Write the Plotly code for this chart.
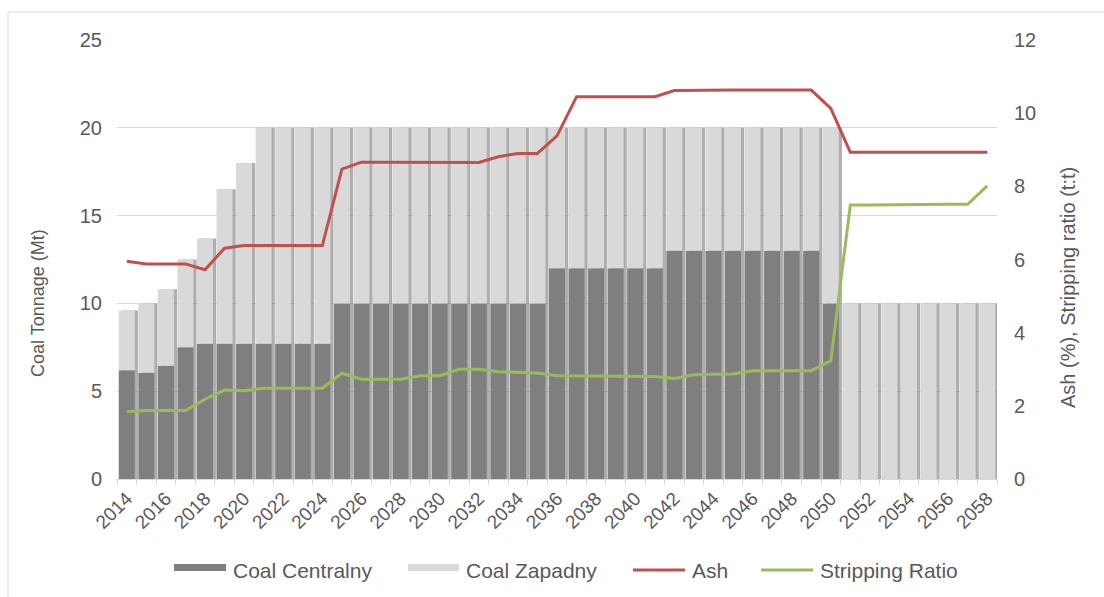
import plotly.graph_objects as go

# Production schedule by year
years = list(range(2014, 2059))

coal_centralny = [6.2, 6.05, 6.45, 7.5, 7.7, 7.7, 7.7, 7.7, 7.7, 7.7, 7.7,
                  10, 10, 10, 10, 10, 10, 10, 10, 10, 10, 10,
                  12, 12, 12, 12, 12, 12,
                  13, 13, 13, 13, 13, 13, 13, 13,
                  10,
                  0, 0, 0, 0, 0, 0, 0, 0]
coal_total = [9.6, 10.0, 10.8, 12.5, 13.7, 16.5, 18.0] + [20] * 30 + [10] * 8
coal_zapadny = [round(t - c, 2) for t, c in zip(coal_total, coal_centralny)]

ash = [5.95, 5.88, 5.88, 5.88, 5.72, 6.31, 6.38, 6.38, 6.38, 6.38, 6.38,
       8.47, 8.66, 8.66, 8.66, 8.65, 8.64, 8.65, 8.65, 8.81, 8.9, 8.9,
       9.38, 10.45, 10.45, 10.45, 10.45, 10.45,
       10.62, 10.63, 10.63, 10.63, 10.63, 10.63, 10.63, 10.63,
       10.13,
       8.93, 8.93, 8.93, 8.93, 8.93, 8.93, 8.93, 8.93]
stripping_ratio = [1.84, 1.87, 1.87, 1.87, 2.18, 2.43, 2.41, 2.48, 2.48, 2.48, 2.48,
                   2.89, 2.73, 2.73, 2.73, 2.82, 2.82, 3.0, 3.0, 2.93, 2.91, 2.9,
                   2.82, 2.82, 2.82, 2.82, 2.82, 2.8,
                   2.75, 2.85, 2.86, 2.87, 2.96, 2.96, 2.96, 2.96,
                   3.23,
                   7.49, 7.49, 7.5, 7.5, 7.51, 7.51, 7.51, 8.01]

C_DARK = "#7f7f7f"
C_LIGHT = "#d9d9d9"
C_ASH = "#c0504d"
C_SR = "#9bbb59"
TXT = "#595959"
FONT = "Liberation Sans"

BAR_W = 0.82

fig = go.Figure()

# soft drop shadow behind each column
fig.add_trace(go.Bar(x=years, y=coal_total, width=BAR_W, offset=-BAR_W / 2 + 0.16,
                     marker=dict(color="rgba(120,120,120,0.6)", line=dict(width=0)),
                     showlegend=False, hoverinfo="skip"))
fig.add_trace(go.Bar(x=years, y=coal_centralny, width=BAR_W, offset=-BAR_W / 2,
                     name="Coal Centralny", marker=dict(color=C_DARK, line=dict(width=0)),
                     showlegend=False))
fig.add_trace(go.Bar(x=years, y=coal_zapadny, base=coal_centralny, width=BAR_W,
                     offset=-BAR_W / 2, name="Coal Zapadny",
                     marker=dict(color=C_LIGHT, line=dict(width=0)), showlegend=False))
fig.add_trace(go.Scatter(x=years, y=ash, name="Ash", mode="lines", yaxis="y2",
                         line=dict(color=C_ASH, width=3), showlegend=False))
fig.add_trace(go.Scatter(x=years, y=stripping_ratio, name="Stripping Ratio", mode="lines",
                         yaxis="y2", line=dict(color=C_SR, width=3), showlegend=False))

W, H = 1104, 597
L, R, T, B = 117, 997, 40, 479


def px(x):
    return (x - L) / (R - L)


def py(y):
    return (B - y) / (B - T)


shapes = [
    # outer chart frame
    dict(type="rect", xref="paper", yref="paper", x0=px(8), x1=px(1110), y0=py(12), y1=py(610),
         line=dict(color="#d9d9d9", width=1), fillcolor="rgba(0,0,0,0)", layer="below"),
    # legend keys
    dict(type="rect", xref="paper", yref="paper", x0=px(174), x1=px(226), y0=py(571), y1=py(564),
         line=dict(width=0), fillcolor=C_DARK),
    dict(type="rect", xref="paper", yref="paper", x0=px(408), x1=px(459), y0=py(571), y1=py(564),
         line=dict(width=0), fillcolor=C_LIGHT),
    dict(type="line", xref="paper", yref="paper", x0=px(633), x1=px(685), y0=py(570), y1=py(570),
         line=dict(color=C_ASH, width=3)),
    dict(type="line", xref="paper", yref="paper", x0=px(761), x1=px(813), y0=py(570), y1=py(570),
         line=dict(color=C_SR, width=3)),
]

annotations = [
    dict(text="Coal Centralny", x=px(231), y=py(570)),
    dict(text="Coal Zapadny", x=px(464), y=py(570)),
    dict(text="Ash", x=px(690), y=py(570)),
    dict(text="Stripping Ratio", x=px(818), y=py(570)),
]
for a in annotations:
    a.update(xref="paper", yref="paper", xanchor="left", yanchor="middle", showarrow=False,
             font=dict(family=FONT, size=21, color=TXT))

annotations += [
    dict(text="Coal Tonnage (Mt)", x=px(38), y=py(303), xref="paper", yref="paper",
         textangle=-90, showarrow=False, xanchor="center", yanchor="middle",
         font=dict(family=FONT, size=18, color=TXT)),
    dict(text="Ash (%), Stripping ratio (t:t)", x=px(1068), y=py(288), xref="paper",
         yref="paper", textangle=-90, showarrow=False, xanchor="center", yanchor="middle",
         font=dict(family=FONT, size=20, color=TXT)),
]

fig.update_layout(
    width=W, height=H,
    margin=dict(l=L, r=W - R, t=T, b=H - B, pad=0),
    paper_bgcolor="white", plot_bgcolor="white",
    barmode="overlay",
    font=dict(family=FONT, color=TXT),
    shapes=shapes, annotations=annotations,
    xaxis=dict(range=[2013.5, 2058.5], tickmode="linear", tick0=2014, dtick=2,
               tickangle=-45, ticks="", showgrid=False, zeroline=False,
               showline=True, linecolor="#d9d9d9", linewidth=1,
               tickfont=dict(family=FONT, size=19, color=TXT),
               minor=dict(tickmode="linear", tick0=2013.5, dtick=1, ticks="outside",
                          ticklen=5, tickcolor="#d9d9d9", showgrid=False)),
    yaxis=dict(range=[0, 25], dtick=5, showgrid=True, gridcolor="#d9d9d9", gridwidth=1,
               zeroline=False, showline=False, ticks="", ticklabelstandoff=14,
               tickfont=dict(family=FONT, size=20, color=TXT)),
    yaxis2=dict(range=[0, 12], dtick=2, overlaying="y", side="right", showgrid=False,
                zeroline=False, showline=False, ticks="", ticklabelstandoff=16,
                tickfont=dict(family=FONT, size=20, color=TXT)),
)

fig.write_html("out.html")
